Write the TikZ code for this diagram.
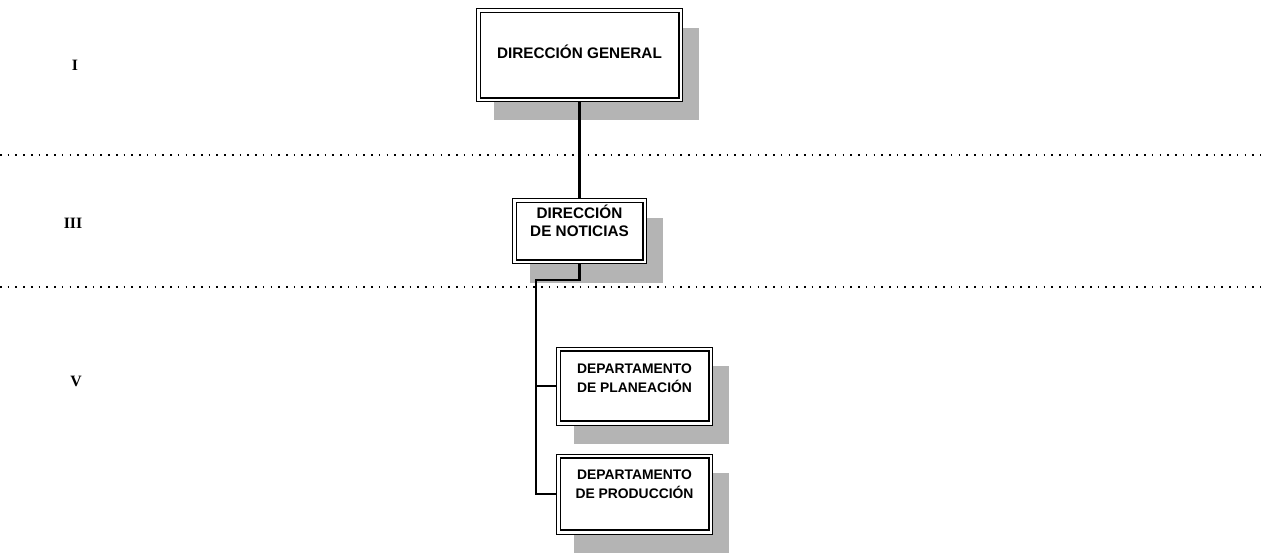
\documentclass[tikz,border=0pt]{standalone}
\usepackage{fontspec}
\setmainfont{Liberation Sans}
\newfontfamily\levelfont{Liberation Serif}
\usepackage{tikz}
\usetikzlibrary{positioning}
\usetikzlibrary{calc}
\usetikzlibrary{shadows}
\definecolor{shade}{HTML}{B4B4B4}

\begin{document}
\begin{tikzpicture}[
  x=0.02cm, y=-0.02cm,
  conn/.style ={
    line width=1.2pt
  },
  unitbox/.style 2 args={
    rectangle,
    draw=black,
    line width=0.5pt,
    fill=white,
    minimum width=#1,
    minimum height=#2,
    inner sep=0pt,
    path picture={
      \draw[line width=1pt]
        ([shift={(2.2pt,-2.2pt)}]path picture bounding box.north west)
        rectangle
        ([shift={(-2.2pt,2.2pt)}]path picture bounding box.south east);
    },
    drop shadow={shadow xshift=0.34cm, shadow yshift=-0.38cm,
      fill=shade, opacity=1, draw=none}},
  unittext/.style={
    align=center,
    font=\bfseries\fontsize{#1}{10.5}\selectfont},
  lvltext/.style={
    font=\levelfont\bfseries\fontsize{9}{10}\selectfont},
  sep/.style={
    line width=0.9pt,
    dash pattern=on 0.9pt off 3.5pt},
]

  \useasboundingbox (0,0) rectangle (1261,556);

  % Levels
  \node[lvltext] (lvl1) at (75,65) {I};
  \node[lvltext] (lvl3) at (73,223) {III};
  \node[lvltext] (lvl5) at (76,381) {V};

  \coordinate (sepa) at (0,155);
  \coordinate (sepb) at (0,287);
  \draw[sep] (sepa) -- ++(1261,0);
  \draw[sep] (sepb) -- ++(1261,0);

  % Units
  \node[unitbox={4.12cm}{1.86cm}] (general) at (579.5,55) {};
  \node[unittext=8.7] at ($(general.center)+(0,-3)$) {DIRECCIÓN GENERAL};

  \node[unitbox={2.68cm}{1.3cm}] (noticias) at (579.5,231) {};
  \node[unittext=8.7] at ($(noticias.center)+(0,-10)$) {DIRECCIÓN\\DE NOTICIAS};

  \node[unitbox={3.12cm}{1.56cm}] (planeacion) at (634.5,386) {};
  \node[unittext=7.9] at ($(planeacion.center)+(0,-8)$)
      {DEPARTAMENTO\\DE PLANEACIÓN};

  \node[unitbox={3.12cm}{1.6cm}] (produccion) at (634.5,494) {};
  \node[unittext=7.9] at ($(produccion.center)+(0,-10)$)
      {DEPARTAMENTO\\DE PRODUCCIÓN};

  % Connectors
  \draw[conn] (general.south) -- (noticias.north);

  \coordinate (split) at (536,280);
  \draw[conn] (noticias.south) |- (split)
      -- (split |- produccion.west) -- (produccion.west);
  \draw[conn] (split |- planeacion.west) -- (planeacion.west);

\end{tikzpicture}
\end{document}
